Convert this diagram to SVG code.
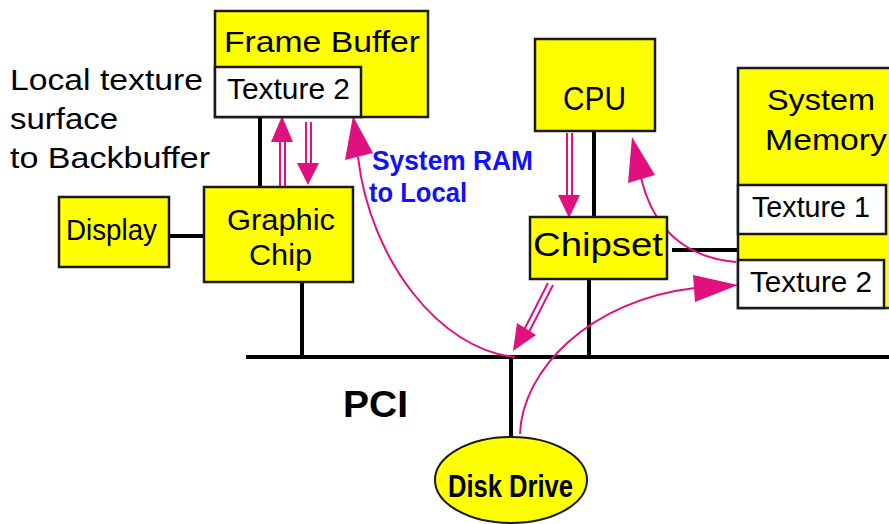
<svg xmlns="http://www.w3.org/2000/svg" width="889" height="524" viewBox="0 0 889 524">
<style>
.box{fill:#ffff00;stroke:#1a1a1a;stroke-width:2.5}
.wbox{fill:#ffffff;stroke:#1a1a1a;stroke-width:2.5}
.t{font-family:"Liberation Sans",Arial,sans-serif;font-size:30px;fill:#000}
.b{font-family:"Liberation Sans",Arial,sans-serif;font-weight:bold;fill:#000}
.blue{fill:#1010ff}
.wire{stroke:#000;stroke-width:4;fill:none}
.pk{stroke:#e0107f;stroke-width:2;fill:none}
.ph{fill:#e0107f;stroke:none}
</style>
<rect width="889" height="524" fill="#fff"/>
<text class="t" x="10" y="90" textLength="193" lengthAdjust="spacingAndGlyphs">Local texture</text>
<text class="t" x="10" y="129" textLength="108" lengthAdjust="spacingAndGlyphs">surface</text>
<text class="t" x="10" y="168" textLength="200" lengthAdjust="spacingAndGlyphs">to Backbuffer</text>
<text class="b blue" x="372" y="170" font-size="27" textLength="161" lengthAdjust="spacingAndGlyphs">System RAM</text>
<text class="b blue" x="369" y="202" font-size="27" textLength="98" lengthAdjust="spacingAndGlyphs">to Local</text>
<text class="b" x="343" y="417" font-size="37" textLength="65" lengthAdjust="spacingAndGlyphs">PCI</text>
<g id="connectors">
<line class="wire" x1="246" y1="357" x2="889" y2="357"/>
<line class="wire" x1="169" y1="236" x2="204" y2="236"/>
<line class="wire" x1="260" y1="117" x2="260" y2="187"/>
<line class="wire" x1="302" y1="282" x2="302" y2="357"/>
<line class="wire" x1="594" y1="131" x2="594" y2="217"/>
<line class="wire" x1="589" y1="279" x2="589" y2="357"/>
<line class="wire" x1="672" y1="250" x2="743" y2="250"/>
<line class="wire" x1="511" y1="357" x2="511" y2="437"/>
<line class="pk" x1="280" y1="186" x2="280" y2="140"/>
<line class="pk" x1="285" y1="186" x2="285" y2="140"/>
<polygon class="ph" points="282,116 271,142 293,142"/>
<line class="pk" x1="306" y1="122" x2="306" y2="165"/>
<line class="pk" x1="311" y1="122" x2="311" y2="165"/>
<polygon class="ph" points="308,185 297,163 319,163"/>
<line class="pk" x1="567" y1="133" x2="567" y2="197"/>
<line class="pk" x1="572" y1="133" x2="572" y2="197"/>
<polygon class="ph" points="569,218 558,195 580,195"/>
<line class="pk" x1="548" y1="283" x2="524" y2="330"/>
<line class="pk" x1="553" y1="285" x2="529" y2="332"/>
<polygon class="ph" points="513,351 517,323 536,335"/>
<path class="pk" d="M515,357 C440,350 370,260 358,157"/>
<polygon class="ph" points="353,116 345,160 373,153"/>
<path class="pk" d="M736,262 C690,258 655,235 641,178"/>
<polygon class="ph" points="632,137 628,183 655,175"/>
<path class="pk" d="M520,434 C522,370 590,300 695,288"/>
<polygon class="ph" points="738,285 693,275 695,302"/>
</g>
<g id="frame-buffer">
<rect class="box" x="215" y="11" width="213" height="106"/>
<text class="t" x="224" y="52" textLength="196" lengthAdjust="spacingAndGlyphs">Frame Buffer</text>
</g>
<g id="fb-texture2">
<rect class="wbox" x="215" y="67" width="146" height="50"/>
<text class="t" x="227" y="99" textLength="123" lengthAdjust="spacingAndGlyphs">Texture 2</text>
</g>
<g id="display">
<rect class="box" x="59" y="197" width="110" height="70"/>
<text class="t" x="66" y="240" textLength="91" lengthAdjust="spacingAndGlyphs">Display</text>
</g>
<g id="graphic-chip">
<rect class="box" x="204" y="187" width="149" height="95"/>
<text class="t" x="227" y="230" textLength="108" lengthAdjust="spacingAndGlyphs">Graphic</text>
<text class="t" x="249" y="265" textLength="63" lengthAdjust="spacingAndGlyphs">Chip</text>
</g>
<g id="cpu">
<rect class="box" x="535" y="39" width="120" height="92"/>
<text class="t" x="563" y="110" style="font-size:33px" textLength="63" lengthAdjust="spacingAndGlyphs">CPU</text>
</g>
<g id="chipset">
<rect class="box" x="530" y="217" width="137" height="62"/>
<text class="t" x="533" y="256" style="font-size:34px" textLength="130" lengthAdjust="spacingAndGlyphs">Chipset</text>
</g>
<g id="system-memory">
<rect class="box" x="738" y="68" width="160" height="240"/>
<text class="t" x="767" y="110" textLength="108" lengthAdjust="spacingAndGlyphs">System</text>
<text class="t" x="765" y="150" textLength="122" lengthAdjust="spacingAndGlyphs">Memory</text>
</g>
<g id="texture1">
<rect class="wbox" x="738" y="185" width="148" height="49"/>
<text class="t" x="752" y="217" textLength="118" lengthAdjust="spacingAndGlyphs">Texture 1</text>
</g>
<g id="sm-texture2">
<rect class="wbox" x="738" y="260" width="146" height="48"/>
<text class="t" x="750" y="292" textLength="122" lengthAdjust="spacingAndGlyphs">Texture 2</text>
</g>
<g id="disk-drive">
<ellipse cx="511" cy="480" rx="76" ry="43" fill="#ffff00" stroke="#1a1a1a" stroke-width="2"/>
<text class="b" x="448" y="497" font-size="32" textLength="125" lengthAdjust="spacingAndGlyphs">Disk Drive</text>
</g>
</svg>
